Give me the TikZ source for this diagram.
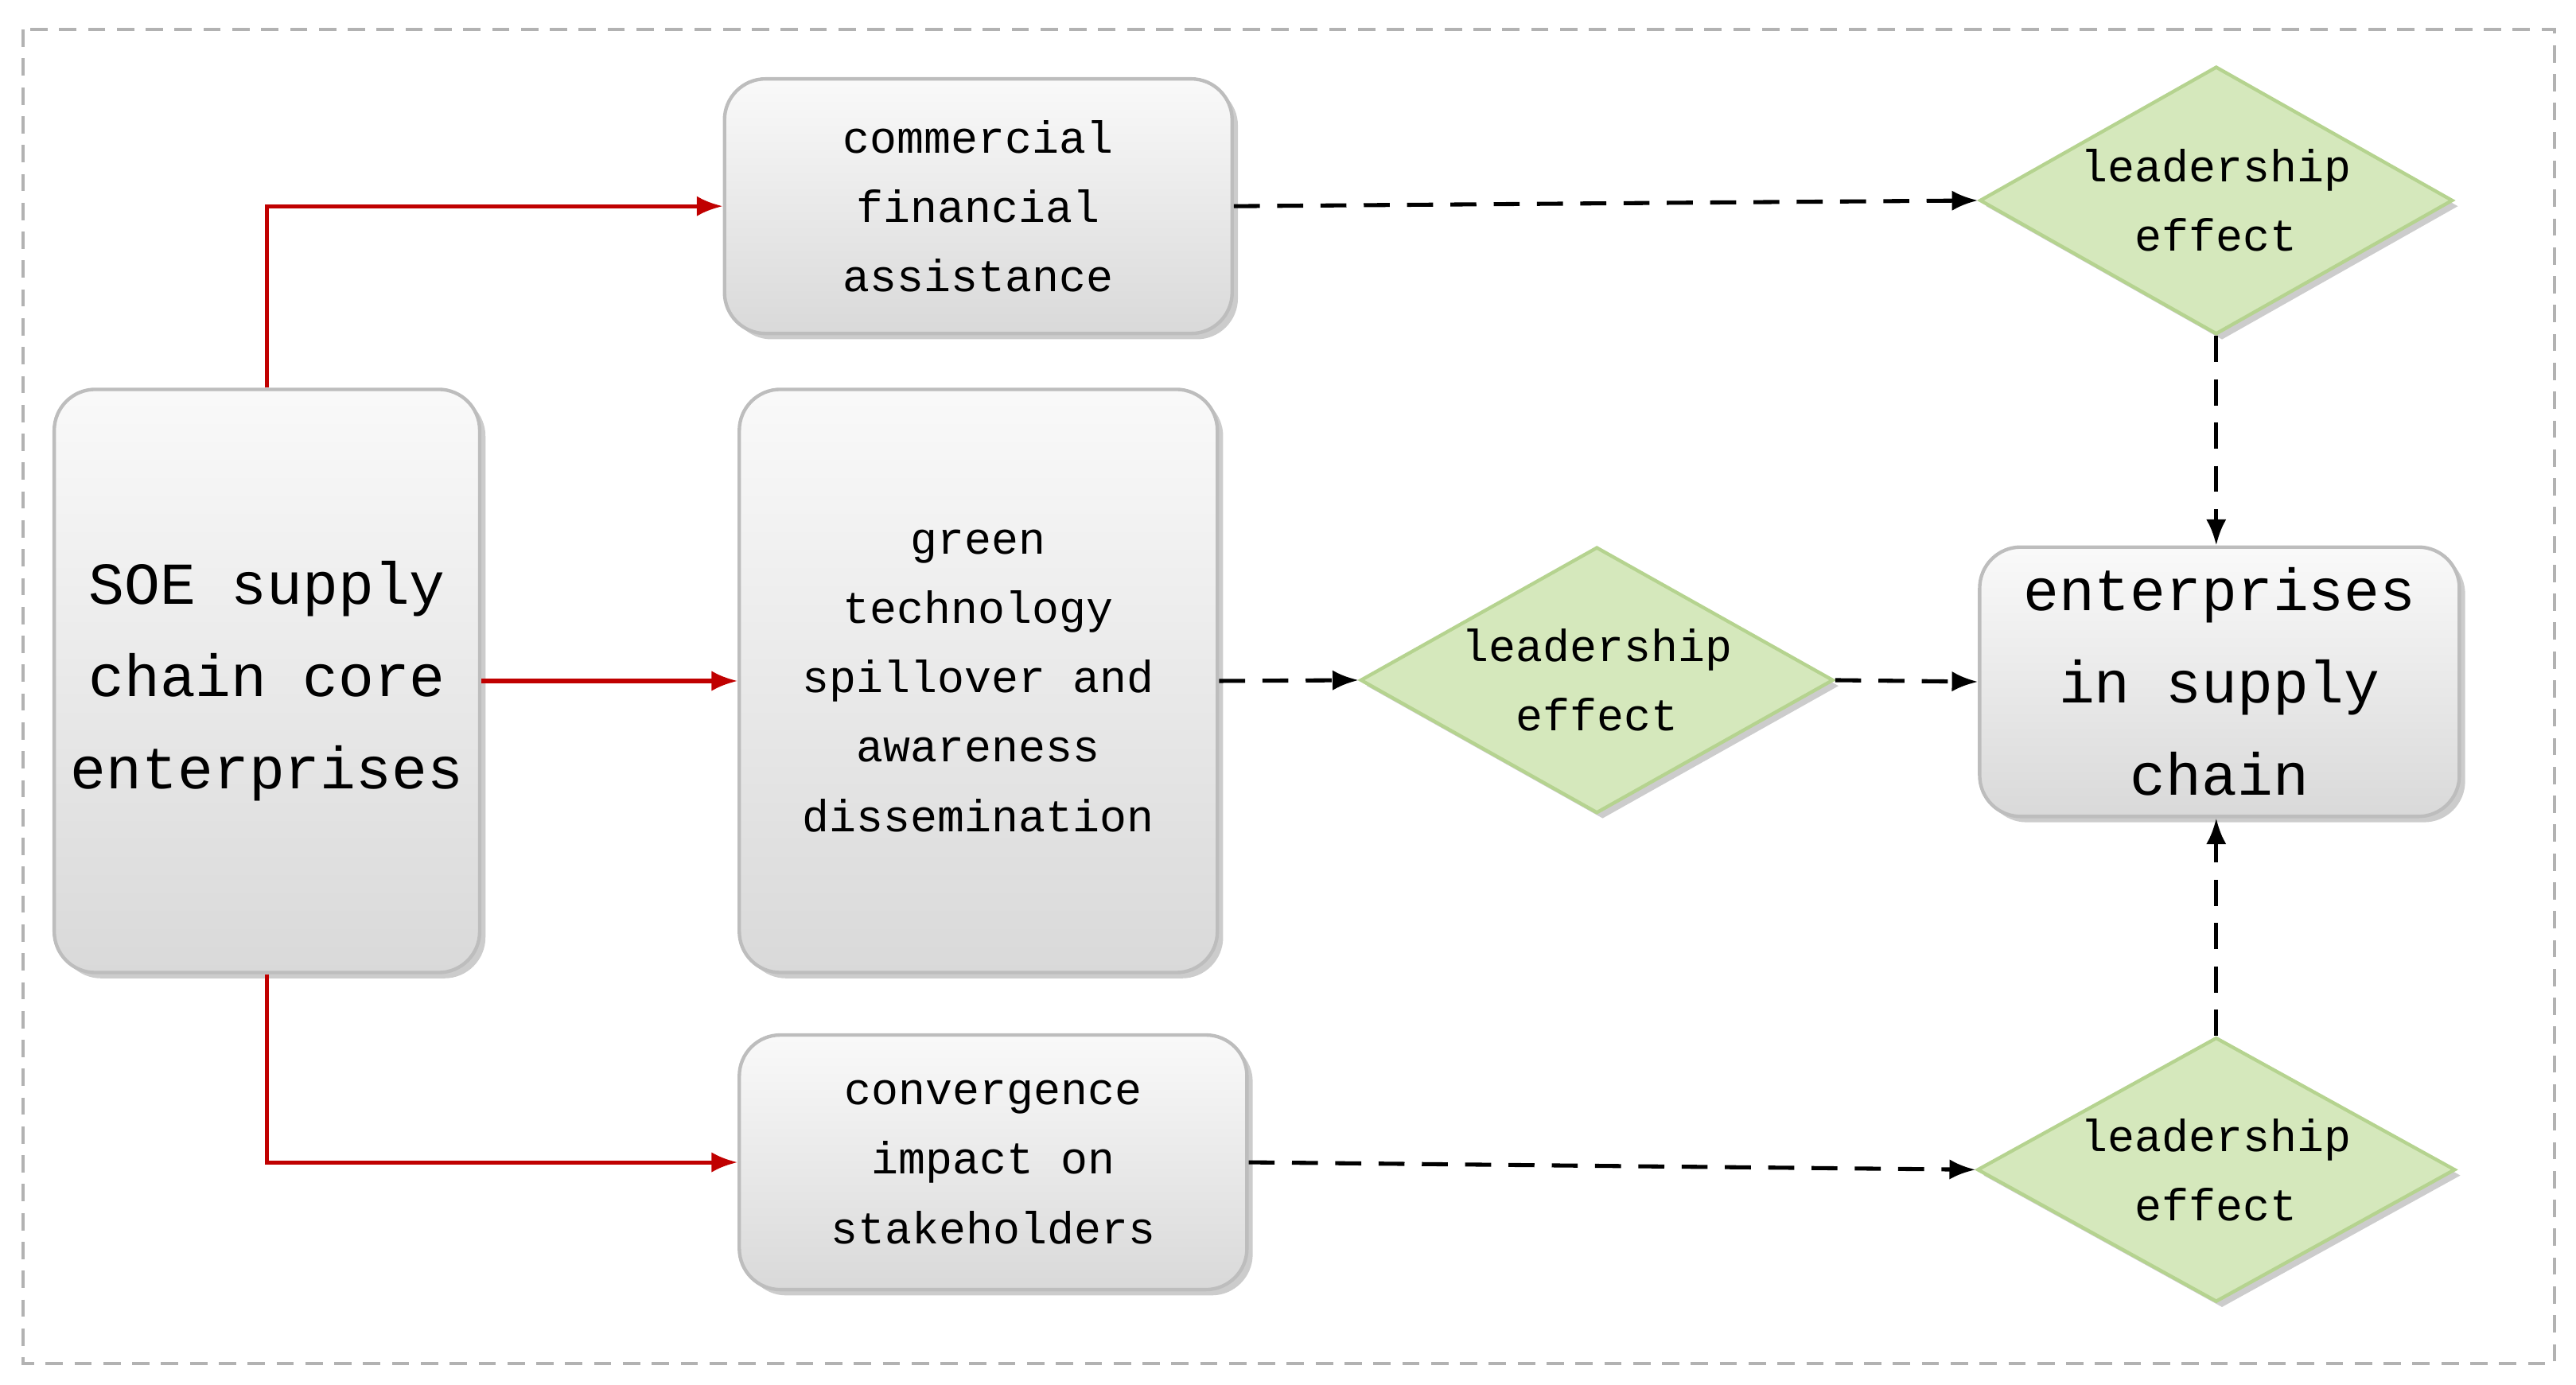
\documentclass[tikz,border=0pt]{standalone}
\usepackage{fontspec}
\setmainfont{Liberation Mono}
\usetikzlibrary{shapes.geometric,shadows,arrows.meta}
\definecolor{boxfill}{HTML}{E3E3E3}
\definecolor{boxline}{HTML}{BDBDBD}
\definecolor{dfill}{HTML}{D5E8BC}
\definecolor{dline}{HTML}{B5D38F}
\definecolor{red1}{HTML}{C00000}
\begin{document}
\begin{tikzpicture}[x=0.02cm,y=-0.02cm,
  box/.style={draw=boxline,line width=1.2pt,rounded corners=0.5cm,top color=white!80!boxfill,bottom color=boxfill!90!gray,
    drop shadow={shadow xshift=2pt,shadow yshift=-2pt,opacity=0.4},align=center,inner sep=0pt,
    font=\fontsize{15.6}{24}\selectfont},
  dia/.style={diamond,draw=dline,line width=1.2pt,fill=dfill,aspect=1.77,inner sep=0pt,
    drop shadow={shadow xshift=2pt,shadow yshift=-2pt,opacity=0.4},align=center,font=\fontsize{15.6}{24}\selectfont},
  red/.style={draw=red1,line width=1.4pt,-{Latex[length=9pt,width=7pt]}},
  dsh/.style={draw=black,line width=1.4pt,dash pattern=on 9pt off 6pt,-{Latex[length=9pt,width=7pt]}}]
\useasboundingbox (0,0) rectangle (1568,843);
\draw[gray!60,line width=1pt,dash pattern=on 6pt off 4pt] (14,18) rectangle (1555,830);
\node[box,minimum width=259*0.02cm,minimum height=355*0.02cm,font=\fontsize{20.6}{32}\selectfont] (soe) at (162.5,414.5) {SOE supply\\chain core\\enterprises};
\node[box,minimum width=309*0.02cm,minimum height=155*0.02cm] (com) at (595.5,125.5) {commercial\\financial\\assistance};
\node[box,minimum width=291*0.02cm,minimum height=355*0.02cm] (grn) at (595.5,414.5) {green\\technology\\spillover and\\awareness\\dissemination};
\node[box,minimum width=309*0.02cm,minimum height=155*0.02cm] (con) at (604.5,707.5) {convergence\\impact on\\stakeholders};
\node[box,minimum width=292*0.02cm,minimum height=164*0.02cm,font=\fontsize{20.6}{32}\selectfont] (ent) at (1351,415) {enterprises\\in supply\\chain};
\node[dia,minimum width=288*0.02cm,minimum height=163*0.02cm] (d1) at (1349,122) {leadership\\effect};
\node[dia,minimum width=288*0.02cm,minimum height=162*0.02cm] (d2) at (972,414) {leadership\\effect};
\node[dia,minimum width=291*0.02cm,minimum height=161*0.02cm] (d3) at (1349,712) {leadership\\effect};
\draw[red] (soe.north) |- (com.west);
\draw[red] (soe.east) -- (grn.west);
\draw[red] (soe.south) |- (con.west);
\draw[dsh] (com.east) -- (d1.west);
\draw[dsh] (grn.east) -- (d2.west);
\draw[dsh] (d2.east) -- (ent.west);
\draw[dsh] (d1.south) -- (ent.north -| d1.south);
\draw[dsh] (con.east) -- (d3.west);
\draw[dsh] (d3.north) -- (ent.south -| d3.north);
\end{tikzpicture}
\end{document}
